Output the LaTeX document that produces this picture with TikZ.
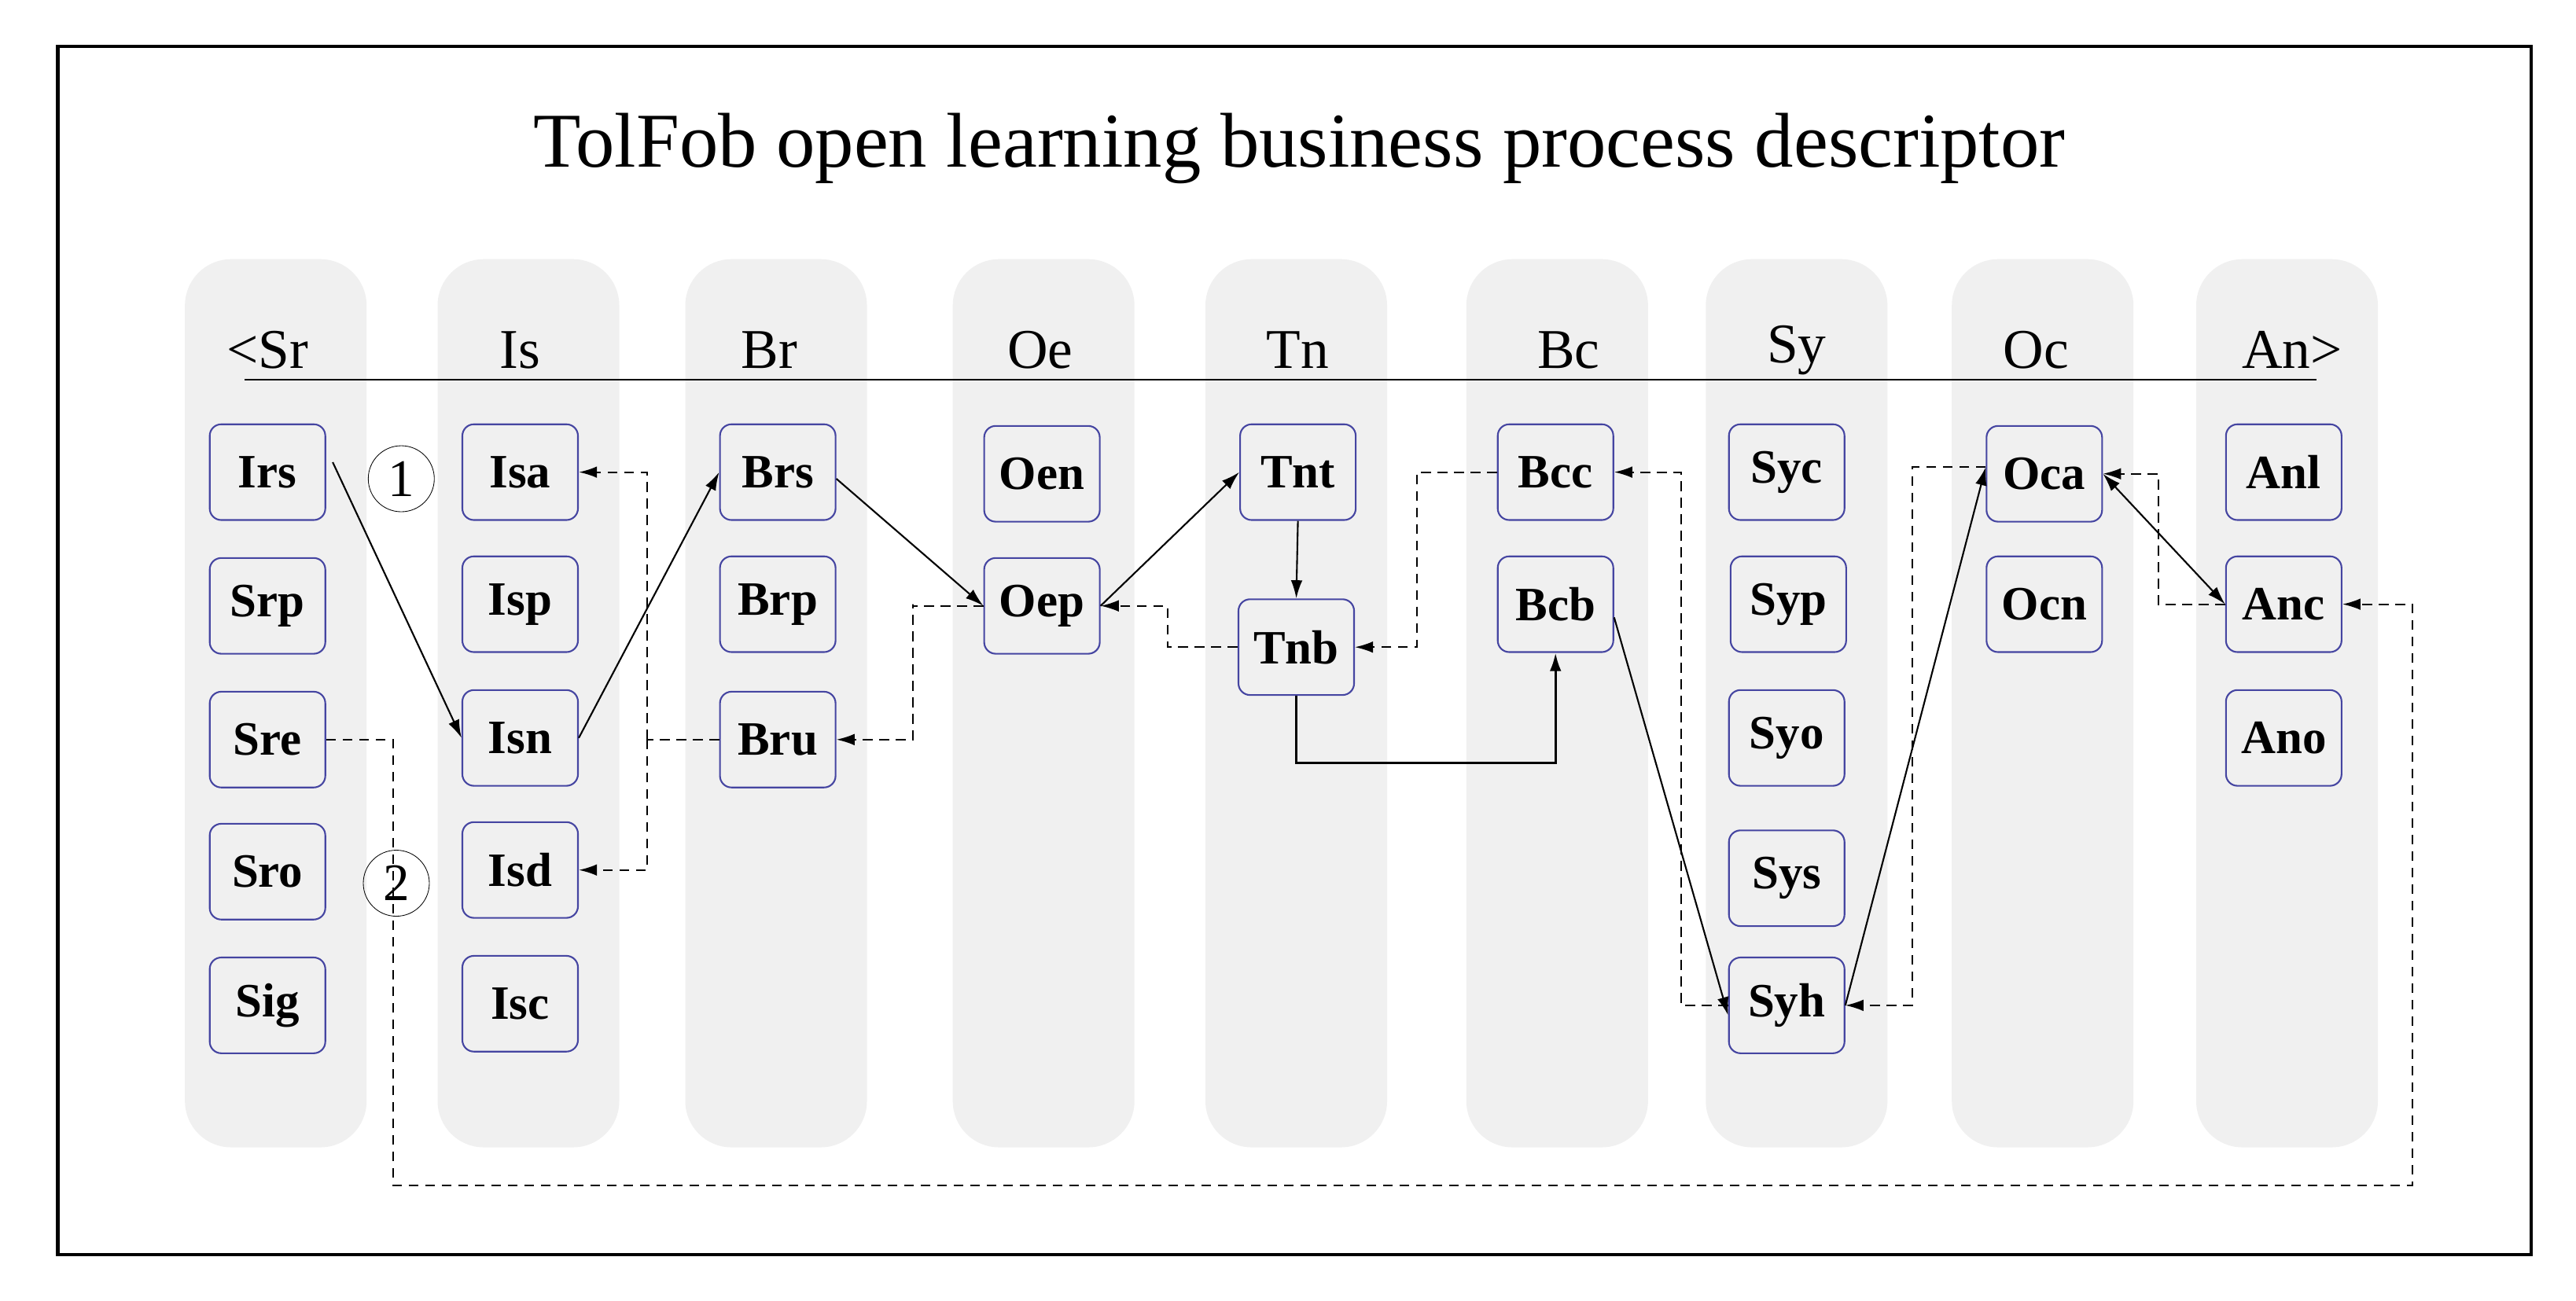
\documentclass[tikz,border=0pt]{standalone}
\usepackage{fontspec}
\setmainfont{Liberation Serif}
\usetikzlibrary{arrows.meta}
\begin{document}
\begin{tikzpicture}[x=1pt,y=-1pt,
  lane/.style={fill=black!6,draw=none,rounded corners=28pt},
  nd/.style={draw=blue!40!gray!90!black,line width=1pt,rounded corners=7pt,minimum width=70pt,minimum height=58pt,inner sep=0pt,font=\fontsize{29}{30}\selectfont\bfseries,fill=black!6},
  hd/.style={font=\fontsize{34}{36}\selectfont},
  arr/.style={line width=1pt,-{Latex[length=11pt,width=7pt]}},
  darr/.style={line width=1pt,dashed,dash pattern=on 6pt off 4pt,-{Latex[length=11pt,width=7pt]}},
  dl/.style={line width=1pt,dashed,dash pattern=on 6pt off 4pt},
  circ/.style={draw,circle,minimum size=40pt,inner sep=0pt,font=\fontsize{32}{32}\selectfont}]
\useasboundingbox (0,0) rectangle (1560,788);
\fill[white] (0,0) rectangle (1560,788);
\draw[line width=2pt] (35,28) rectangle (1533,760);
\node[font=\fontsize{47}{49}\selectfont] (title) at (787,90) {TolFob open learning business process descriptor};
% lanes
\foreach \x in {167,320,470,632,785,943,1088,1237,1385}
  \fill[lane] (\x-55,157) rectangle (\x+55,695);
% headers
\node[hd] (hSr) at (162,212) {<Sr};
\node[hd] (hIs) at (315,212) {Is};
\node[hd] (hBr) at (466,212) {Br};
\node[hd] (hOe) at (630,212) {Oe};
\node[hd] (hTn) at (786,212) {Tn};
\node[hd] (hBc) at (950,212) {Bc};
\node[hd] (hSy) at (1088,212) {Sy};
\node[hd] (hOc) at (1233,212) {Oc};
\node[hd] (hAn) at (1388,212) {An>};
\draw[line width=1.2pt] (148,230) -- (1403,230);
% nodes
\node[nd] (Irs) at (162,286) {Irs};
\node[nd] (Srp) at (162,367) {Srp};
\node[nd] (Sre) at (162,448) {Sre};
\node[nd] (Sro) at (162,528) {Sro};
\node[nd] (Sig) at (162,609) {Sig};
\node[nd] (Isa) at (315,286) {Isa};
\node[nd] (Isp) at (315,366) {Isp};
\node[nd] (Isn) at (315,447) {Isn};
\node[nd] (Isd) at (315,527) {Isd};
\node[nd] (Isc) at (315,608) {Isc};
\node[nd] (Brs) at (471,286) {Brs};
\node[nd] (Brp) at (471,366) {Brp};
\node[nd] (Bru) at (471,448) {Bru};
\node[nd] (Oen) at (631,287) {Oen};
\node[nd] (Oep) at (631,367) {Oep};
\node[nd] (Tnt) at (786,286) {Tnt};
\node[nd] (Tnb) at (785,392) {Tnb};
\node[nd] (Bcc) at (942,286) {Bcc};
\node[nd] (Bcb) at (942,366) {Bcb};
\node[nd] (Syc) at (1082,286) {Syc};
\node[nd] (Syp) at (1083,366) {Syp};
\node[nd] (Syo) at (1082,447) {Syo};
\node[nd] (Sys) at (1082,532) {Sys};
\node[nd] (Syh) at (1082,609) {Syh};
\node[nd] (Oca) at (1238,287) {Oca};
\node[nd] (Ocn) at (1238,366) {Ocn};
\node[nd] (Anl) at (1383,286) {Anl};
\node[nd] (Anc) at (1383,366) {Anc};
\node[nd] (Ano) at (1383,447) {Ano};
\node[circ] (c1) at (243,290) {1};
\node[circ] (c2) at (240,535) {2};
% solid connectors
\draw[arr] ([xshift=4pt,yshift=6pt]Irs.east) -- (Isn.west);
\draw[arr] (Isn.east) -- (Brs.west);
\draw[arr] ([yshift=-4pt]Brs.east) -- (Oep.west);
\draw[arr] (Oep.east) -- (Tnt.west);
\draw[arr] (Tnt.south) -- (Tnb.north);
\draw[line width=1.4pt,-{Latex[length=11pt,width=7pt]}] (Tnb.south) |- (942,462) -- (Bcb.south);
\draw[arr] ([yshift=-8pt]Bcb.east) -- ([yshift=-6pt]Syh.west);
\draw[arr] (Syh.east) -- ([yshift=4pt]Oca.west);
\draw[arr,{Latex[length=11pt,width=7pt]}-{Latex[length=11pt,width=7pt]}] (Oca.east) -- (Anc.west);
% dashed connectors
\coordinate (b1) at (392,448);
\draw[dl] (Bru.west) -- (b1);
\draw[darr] (b1) |- (Isa.east);
\draw[darr] (b1) |- (Isd.east);
\draw[darr] (Oep.west) -| (553,366) |- (Bru.east);
\draw[darr] (Tnb.west) -| (707,392) |- (Oep.east);
\draw[darr] (Bcc.west) -| (858,286) |- (Tnb.east);
\draw[darr] (Syh.west) -| (1018,609) |- (Bcc.east);
\draw[darr] ([yshift=4pt]Oca.west) -| (1158,291) |- (Syh.east);
\draw[darr] (Anc.west) -| (1307,366) |- (Oca.east);
\draw[darr] (Sre.east) -| (238,718) -| (1461,366) -- (Anc.east);
\end{tikzpicture}
\end{document}
